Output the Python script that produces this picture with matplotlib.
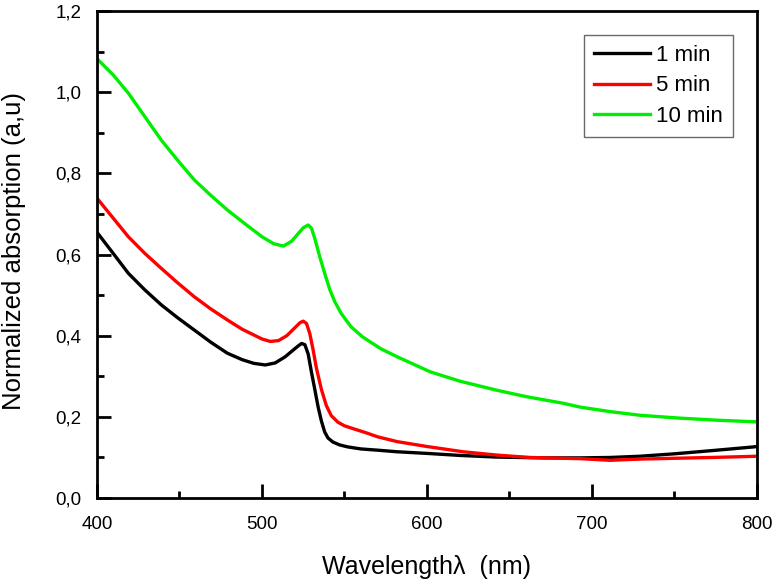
import matplotlib
matplotlib.use("Agg")
import matplotlib.pyplot as plt
from matplotlib.ticker import MultipleLocator, FuncFormatter

plt.rcParams['font.family'] = ['Liberation Sans', 'DejaVu Sans']

# Data
wl_1min = [400, 410, 419, 429, 439, 449, 459, 469, 479, 488, 495, 502, 508, 514, 519, 522, 524, 526, 528, 530, 532, 534, 536, 538, 540, 543, 547, 552, 560, 570, 582, 600, 620, 642, 670, 693, 711, 729, 750, 773, 798, 800]
ab_1min = [0.655, 0.602, 0.554, 0.513, 0.476, 0.444, 0.414, 0.384, 0.357, 0.341, 0.332, 0.328, 0.333, 0.348, 0.365, 0.375, 0.381, 0.378, 0.355, 0.310, 0.268, 0.225, 0.190, 0.163, 0.148, 0.138, 0.131, 0.126, 0.121, 0.118, 0.114, 0.110, 0.105, 0.101, 0.099, 0.099, 0.100, 0.103, 0.109, 0.117, 0.126, 0.127]

wl_5min = [400, 410, 419, 429, 439, 449, 459, 469, 479, 488, 495, 500, 505, 510, 515, 520, 523, 525, 527, 529, 531, 533, 536, 539, 542, 546, 550, 556, 563, 570, 582, 600, 622, 642, 662, 693, 711, 729, 750, 773, 800]
ab_5min = [0.739, 0.689, 0.644, 0.603, 0.566, 0.530, 0.496, 0.466, 0.439, 0.416, 0.402, 0.392, 0.386, 0.388, 0.400, 0.420, 0.432, 0.436, 0.430, 0.405, 0.365, 0.320, 0.268, 0.228, 0.203, 0.187, 0.178, 0.170, 0.161, 0.151, 0.139, 0.127, 0.114, 0.106, 0.100, 0.097, 0.093, 0.096, 0.098, 0.100, 0.103]

wl_10min = [400, 410, 419, 429, 439, 449, 459, 469, 479, 490, 500, 507, 513, 518, 522, 525, 528, 530, 532, 535, 538, 541, 544, 548, 554, 561, 572, 582, 602, 620, 642, 660, 682, 693, 711, 729, 753, 775, 798, 800]
ab_10min = [1.083, 1.042, 0.998, 0.940, 0.882, 0.832, 0.784, 0.746, 0.710, 0.675, 0.644, 0.627, 0.621, 0.633, 0.652, 0.666, 0.673, 0.665, 0.640, 0.595, 0.554, 0.515, 0.485, 0.455, 0.422, 0.397, 0.368, 0.348, 0.311, 0.288, 0.266, 0.250, 0.234, 0.224, 0.213, 0.204, 0.197, 0.192, 0.188, 0.188]

labels = ['1 min', '5 min', '10 min']
colors = ['#000000', '#ff0000', '#00ee00']

fig = plt.figure(figsize=(7.74, 5.88), dpi=100)
ax = fig.add_axes([0.1253, 0.153, 0.8527, 0.828])

for wl, ab, lab, c in zip([wl_1min, wl_5min, wl_10min], [ab_1min, ab_5min, ab_10min], labels, colors):
    ax.plot(wl, ab, color=c, lw=2.4, label=lab, solid_joinstyle='round')

ax.set_xlim(400, 800)
ax.set_ylim(0.0, 1.2)
ax.xaxis.set_major_locator(MultipleLocator(100))
ax.xaxis.set_minor_locator(MultipleLocator(50))
ax.yaxis.set_major_locator(MultipleLocator(0.2))
ax.yaxis.set_minor_locator(MultipleLocator(0.1))
ax.yaxis.set_major_formatter(FuncFormatter(lambda v, p: f"{v:.1f}".replace('.', ',')))

ax.tick_params(which='both', direction='in', top=False, right=False, width=2, colors='black')
ax.tick_params(which='major', length=10, labelsize=13.5)
ax.tick_params(axis='x', which='major', pad=13)
ax.tick_params(axis='y', which='major', pad=11)
ax.tick_params(which='minor', length=5)
for s in ax.spines.values():
    s.set_linewidth(2)

ax.set_xlabel('Wavelength\u03bb  (nm)', fontsize=18)
ax.set_ylabel('Normalized absorption (a,u)', fontsize=18.5)
ax.xaxis.set_label_coords(0.5, -0.118)
ax.yaxis.set_label_coords(-0.108, 0.507)

leg = ax.legend(loc='upper right', bbox_to_anchor=(0.964, 0.951), fontsize=16, frameon=True,
                fancybox=False, edgecolor='#444444', handlelength=2.5, handletextpad=0.3,
                labelspacing=0.42, borderpad=0.45, borderaxespad=0)
leg.get_frame().set_linewidth(1)

fig.savefig('out.png', dpi=100)
